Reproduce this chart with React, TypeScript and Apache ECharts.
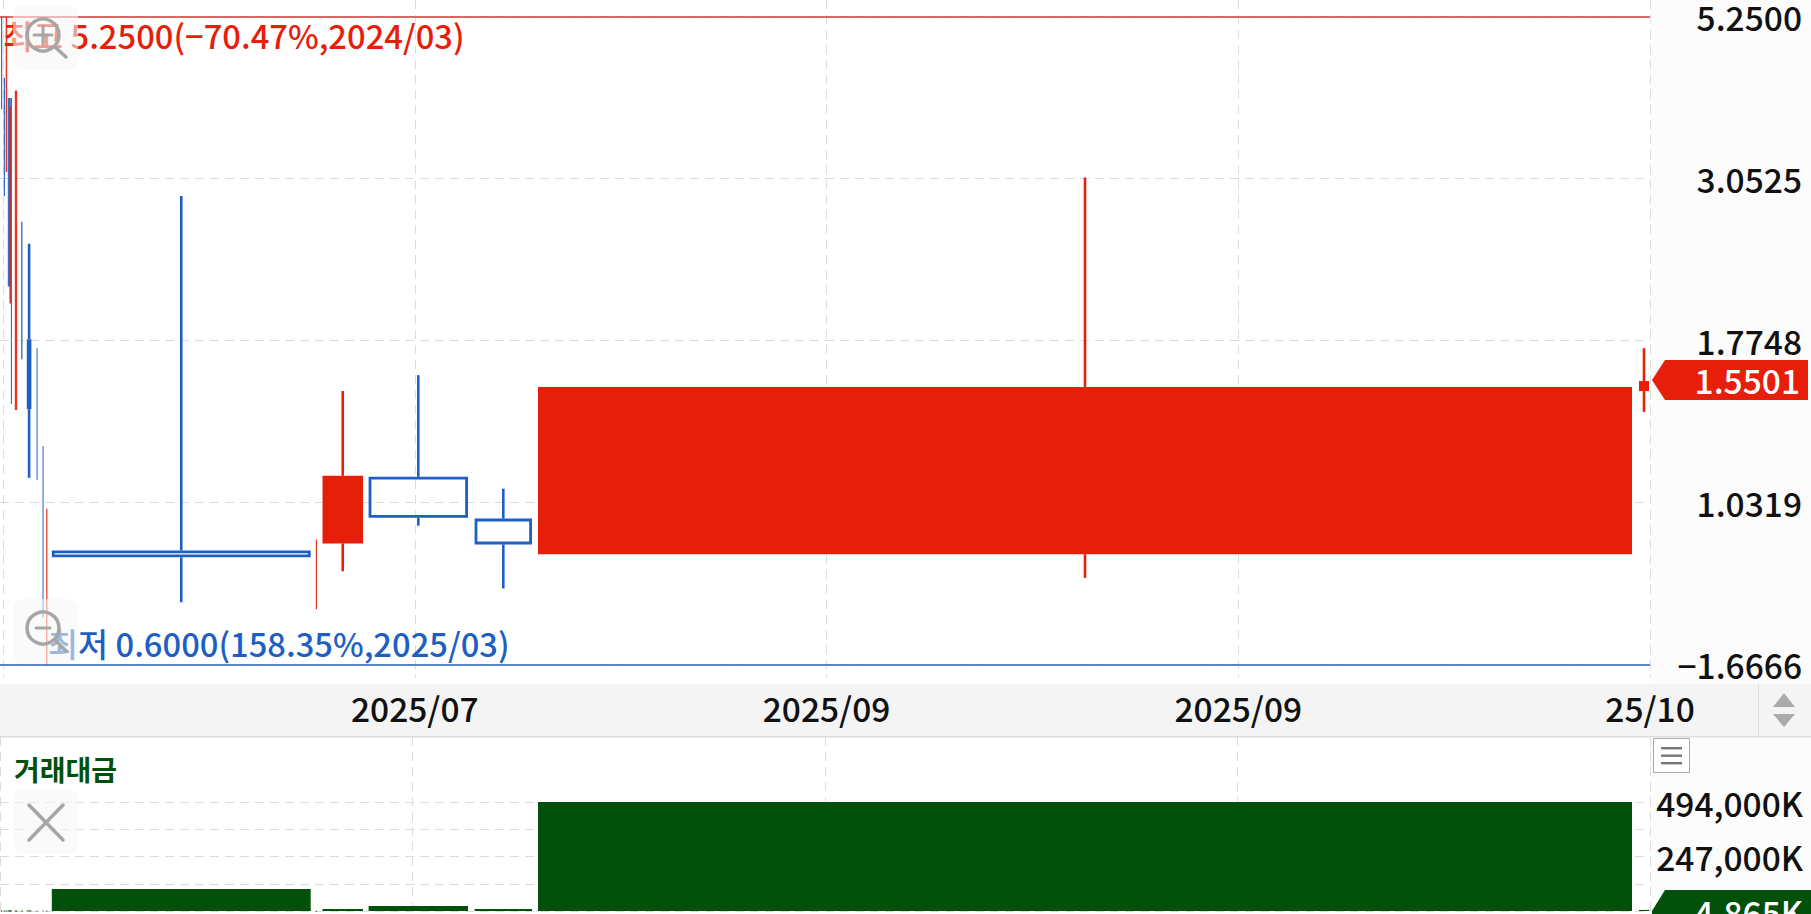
import React, { useEffect, useRef } from "react";
import * as echarts from "echarts";

// Equivolume candles: horizontal axis is cumulative weight, each candle spans spanFrom..spanTo
const spanFrom = [1, 3.8, 5.7, 7.8, 9.4, 10.9, 14.8, 21.1, 26.8, 36.5, 42.5, 46.2, 51.8, 315.8, 322.5, 368.6, 474.6, 538, 1639];
const spanTo = [2.2, 5, 7.2, 10.8, 11, 12, 17.2, 22.5, 31.4, 37.6, 43.6, 47.4, 310.7, 317, 363, 468, 532, 1632, 1649];
const opens = [4.6, 3.9, 3.4, 3.567, 2.4, 3.2, 2.0, 2.3, 1.783, 1.5, 1.0, 0.7, 0.879, 0.78, 0.9, 1.125, 0.978, 0.868, 1.499];
const highs = [5.25, 4.28, 5.25, 4.0, 3.89, 4.0, 4.1, 2.642, 2.455, 1.73, 1.247, 1.011, 2.88, 0.912, 1.499, 1.581, 1.081, 3.065, 1.73];
const lows = [3.851, 2.88, 3.12, 2.127, 2.01, 1.435, 1.407, 1.667, 1.121, 1.114, 0.703, 0.6, 0.739, 0.722, 0.82, 0.955, 0.774, 0.802, 1.398];
const closes = [4.2, 3.3, 4.5, 2.642, 3.2, 2.4, 3.0, 1.9, 1.411, 1.3, 0.85, 0.9, 0.859, 0.85, 1.129, 0.981, 0.897, 1.52, 1.5501];
const amounts = [2500, 2500, 2500, 2500, 2500, 2500, 2500, 2500, 2500, 2500, 2500, 2500, 100000, 1500, 9000, 23000, 9000, 494000, 4865];

const priceTickLabels = ["−1.6666", "1.0319", "1.7748", "3.0525", "5.2500"];
const dateTickLabels = ["", "2025/07", "2025/09", "2025/09", "25/10"];
const amountTickLabels = ["", "", "247,000K", "", "494,000K"];
const highText = "최고 5.2500(−70.47%,2024/03)";
const lowText = "최저 0.6000(158.35%,2025/03)";
const lastPriceText = "1.5501";
const lastAmountText = "4,865K";
const panelTitle = "거래대금";
const priceMin = 0.6;
const priceMax = 5.25;

const RED = "#e61e0a";
const BLUE = "#1f5fc4";
const GREEN = "#03500b";
const INK = "#111111";
const FONT = '"Noto Sans CJK KR Medium", "Noto Sans CJK KR", "Noto Sans", sans-serif';
const BOLD_FONT = '"Noto Sans CJK KR", "Noto Sans", sans-serif';
const GRIDLINE = "#dcdcdc";
const ICON = "#a6a6a6";

// Price scale is logarithmic with four equal steps between the low and the high
const toStep = (p: number) => (4 * Math.log(p / priceMin)) / Math.log(priceMax / priceMin);

const candleRows = spanFrom.map((f, i) => [f, spanTo[i], opens[i], highs[i], lows[i], closes[i]]);
const amountRows = spanFrom.map((f, i) => [f, spanTo[i], amounts[i]]);

function renderCandle(_: any, api: any) {
  const from = api.value(0);
  const to = api.value(1);
  const o = api.value(2);
  const h = api.value(3);
  const l = api.value(4);
  const c = api.value(5);
  const up = c >= o;
  const color = up ? RED : BLUE;
  const px = (x: number, p: number) => api.coord([x, toStep(p)]);
  const xL = px(from, h)[0];
  const xR = px(to, h)[0];
  const span = xR - xL;
  const yH = px(from, h)[1];
  const yL = px(from, l)[1];
  const yTop = px(from, Math.max(o, c))[1];
  const yBot = px(from, Math.min(o, c))[1];
  const thin = span < 3.2;
  const opacity = thin ? 0.9 : 1;
  if (thin) {
    return {
      type: "rect",
      shape: { x: xL, y: yH, width: span, height: yL - yH },
      style: { fill: color, opacity },
    };
  }
  const wick = 2.6;
  const xM = (xL + xR) / 2;
  const children: any[] = [
    { type: "rect", shape: { x: xM - wick / 2, y: yH, width: wick, height: yTop - yH }, style: { fill: color } },
    { type: "rect", shape: { x: xM - wick / 2, y: yBot, width: wick, height: yL - yBot }, style: { fill: color } },
  ];
  if (up) {
    children.push({ type: "rect", shape: { x: xL, y: yTop, width: span, height: yBot - yTop }, style: { fill: color } });
  } else if (span < 8) {
    children.push({ type: "rect", shape: { x: xL, y: yTop, width: span, height: yBot - yTop }, style: { fill: color } });
  } else {
    const sw = 2.8;
    children.push({
      type: "rect",
      shape: { x: xL + sw / 2, y: yTop + sw / 2, width: span - sw, height: yBot - yTop - sw },
      style: { fill: "none", stroke: color, lineWidth: sw },
    });
  }
  return { type: "group", children };
}

function renderAmount(_: any, api: any) {
  const a = api.coord([api.value(0), api.value(2)]);
  const b = api.coord([api.value(1), 0]);
  return {
    type: "rect",
    shape: { x: a[0], y: a[1], width: b[0] - a[0], height: Math.max(b[1] - a[1], 1) },
    style: { fill: GREEN },
  };
}

const dashed = { show: true, lineStyle: { color: GRIDLINE, type: [9, 6] as any, width: 1 } };
const hidden = { show: false };

function xAxisBase(gridIndex: number, extra: any = {}) {
  return {
    type: "value",
    gridIndex,
    min: 0,
    max: 1650,
    interval: 412.5,
    axisLine: hidden,
    axisTick: hidden,
    axisLabel: hidden,
    splitLine: hidden,
    ...extra,
  };
}

function yAxisHelper(gridIndex: number) {
  return {
    type: "value",
    gridIndex,
    min: 0,
    max: 1,
    interval: 1,
    axisLine: hidden,
    axisTick: hidden,
    axisLabel: hidden,
    splitLine: hidden,
  };
}

const labelStyle = {
  color: INK,
  fontFamily: FONT,
  fontSize: 33.5,
  fontWeight: 500,
};

function buildGraphic() {
  const panelBg = [
    { type: "rect", z: -5, shape: { x: 1650, y: 0, width: 161, height: 914 }, style: { fill: "#fcfcfc" } },
    { type: "rect", z: -4, shape: { x: 0, y: 684, width: 1811, height: 53 }, style: { fill: "#f4f4f4" } },
    { type: "rect", z: -3, shape: { x: 0, y: 736, width: 1811, height: 1.5 }, style: { fill: "#dddddd" } },
    { type: "rect", z: -3, shape: { x: 1758, y: 684, width: 1, height: 53 }, style: { fill: "#dddddd" } },
  ];
  const texts = [
    { type: "text", z: 50, x: 3, y: 34, style: { text: highText, fill: RED, font: `500 32.7px ${FONT}`, textVerticalAlign: "middle" } },
    { type: "text", z: 50, x: 48, y: 642, style: { text: lowText, fill: BLUE, font: `500 32.7px ${FONT}`, textVerticalAlign: "middle" } },
    { type: "text", z: 50, x: 14, y: 769, style: { text: panelTitle, fill: GREEN, font: `700 28px ${BOLD_FONT}`, textVerticalAlign: "middle" } },
  ];
  const tags = [
    { type: "polygon", z: 60, shape: { points: [[1652, 380], [1665, 360], [1808, 360], [1808, 400], [1665, 400]] }, style: { fill: RED } },
    { type: "text", z: 61, x: 1800, y: 379, style: { text: lastPriceText, fill: "#ffffff", font: `500 33.5px ${FONT}`, textAlign: "right", textVerticalAlign: "middle" } },
    { type: "polygon", z: 60, shape: { points: [[1652, 911], [1665, 890], [1811, 890], [1811, 914], [1652, 914]] }, style: { fill: GREEN } },
    { type: "text", z: 61, x: 1803, y: 911, style: { text: lastAmountText, fill: "#ffffff", font: `500 33.5px ${FONT}`, textAlign: "right", textVerticalAlign: "middle" } },
  ];
  const iconLine = (x1: number, y1: number, x2: number, y2: number, w = 3.5) => ({
    type: "line",
    z: 71,
    shape: { x1, y1, x2, y2 },
    style: { stroke: ICON, lineWidth: w, lineCap: "round" },
  });
  const iconBox = (y: number) => ({
    type: "rect",
    z: 70,
    shape: { x: 13, y, width: 65, height: 65, r: 10 },
    style: { fill: "rgba(247,247,247,0.58)" },
  });
  const lens = (cy: number) => ({
    type: "circle",
    z: 71,
    shape: { cx: 43, cy, r: 16 },
    style: { fill: "none", stroke: ICON, lineWidth: 3.5 },
  });
  const icons = [
    iconBox(5),
    lens(35),
    iconLine(34, 35, 52, 35, 3),
    iconLine(43, 26, 43, 44, 3),
    iconLine(55, 47, 66, 57),
    iconBox(599),
    lens(628),
    iconLine(36, 628, 50, 628, 3),
    iconLine(55, 640, 66, 651),
    iconBox(789),
    iconLine(29, 805, 63, 840),
    iconLine(63, 805, 29, 840),
  ];
  const controls = [
    { type: "polygon", z: 71, shape: { points: [[1784, 693], [1773, 707], [1795, 707]] }, style: { fill: "#aaaaaa" } },
    { type: "polygon", z: 71, shape: { points: [[1773, 714], [1795, 714], [1784, 727]] }, style: { fill: "#aaaaaa" } },
    { type: "rect", z: 71, shape: { x: 1653.5, y: 738.5, width: 36, height: 34 }, style: { fill: "#ffffff", stroke: "#aaaaaa", lineWidth: 1 } },
    { type: "rect", z: 72, shape: { x: 1661, y: 747, width: 21, height: 2.4 }, style: { fill: "#777777" } },
    { type: "rect", z: 72, shape: { x: 1661, y: 754.5, width: 21, height: 2.4 }, style: { fill: "#777777" } },
    { type: "rect", z: 72, shape: { x: 1661, y: 762, width: 21, height: 2.4 }, style: { fill: "#777777" } },
  ];
  return [...panelBg, ...texts, ...tags, ...icons, ...controls];
}

export default function App() {
  const ref = useRef<HTMLDivElement>(null);
  useEffect(() => {
    document.body.style.margin = "0";
    const chart = echarts.init(ref.current!, undefined, { renderer: "svg" });
    chart.setOption({
      animation: false,
      backgroundColor: "#ffffff",
      grid: [
        { left: 0, top: 14, width: 1650, height: 650.5 },
        { left: 0, top: 802, width: 1650, height: 109 },
        { left: 0, top: 0, width: 1650, height: 678 },
        { left: 0, top: 737, width: 1650, height: 177 },
      ],
      xAxis: [
        xAxisBase(0),
        xAxisBase(1),
        xAxisBase(2, {
          splitLine: dashed,
          axisLabel: {
            show: true,
            ...labelStyle,
            margin: 13,
            formatter: (_: number, i: number) => dateTickLabels[i] ?? "",
          },
        }),
        xAxisBase(3, { splitLine: dashed }),
      ],
      yAxis: [
        {
          type: "value",
          gridIndex: 0,
          position: "right",
          min: 0,
          max: 4,
          interval: 1,
          axisLine: hidden,
          axisTick: hidden,
          splitLine: dashed,
          axisLabel: {
            ...labelStyle,
            align: "right",
            padding: [0, 0, 6, 0],
            margin: 152,
            formatter: (_: number, i: number) => priceTickLabels[i] ?? "",
          },
        },
        {
          type: "value",
          gridIndex: 1,
          position: "right",
          min: 0,
          max: 494000,
          interval: 123500,
          axisLine: hidden,
          axisTick: hidden,
          splitLine: dashed,
          axisLabel: {
            ...labelStyle,
            align: "right",
            padding: [0, 0, 6, 0],
            margin: 153,
            formatter: (_: number, i: number) => amountTickLabels[i] ?? "",
          },
        },
        yAxisHelper(2),
        yAxisHelper(3),
      ],
      series: [
        {
          type: "custom",
          name: "가격",
          xAxisIndex: 0,
          yAxisIndex: 0,
          clip: false,
          encode: { x: [0, 1], y: [3, 4] },
          data: candleRows,
          renderItem: renderCandle,
          markLine: {
            silent: true,
            symbol: "none",
            label: { show: false },
            animation: false,
            data: [
              { yAxis: toStep(priceMax), lineStyle: { color: "#cf3b33", type: "solid", width: 1.5 } },
              { yAxis: toStep(priceMin), lineStyle: { color: "#2a62b8", type: "solid", width: 1.5 } },
            ],
          },
        },
        {
          type: "custom",
          name: panelTitle,
          xAxisIndex: 1,
          yAxisIndex: 1,
          clip: false,
          encode: { x: [0, 1], y: 2 },
          data: amountRows,
          renderItem: renderAmount,
        },
      ],
      graphic: { elements: buildGraphic() },
    });
    return () => chart.dispose();
  }, []);
  return <div ref={ref} style={{ width: 1811, height: 914 }} />;
}
